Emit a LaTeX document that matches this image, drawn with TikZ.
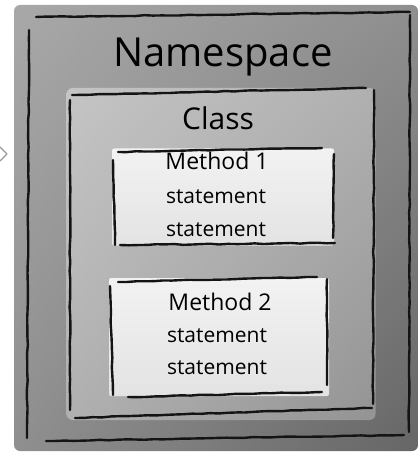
\documentclass[tikz,border=0pt]{standalone}
\usepackage{fontspec}
\setmainfont{Open Sans}
\usetikzlibrary{decorations.pathmorphing,shadings}

\definecolor{nsLight}{gray}{0.66}
\definecolor{nsMid}{gray}{0.56}
\definecolor{nsDark}{gray}{0.40}
\definecolor{clLight}{gray}{0.77}
\definecolor{clMid}{gray}{0.69}
\definecolor{clDark}{gray}{0.58}
\definecolor{mtLight}{gray}{0.95}
\definecolor{mtDark}{gray}{0.89}

\tikzset{
  pen/.style={line width=2.4pt, line cap=round, black!92,
    decorate, decoration={random steps, segment length=9pt, amplitude=0.45pt}},
  panel/.style={inner sep=0pt, rounded corners=6pt},
  title/.style={anchor=base, inner sep=0pt},
}

\begin{document}
\begin{tikzpicture}[x=1pt,y=-1pt]
  \useasboundingbox (0,0) rectangle (419,454);

  % filled panels
  \node (ns) [panel, minimum width=404pt, minimum height=446pt,
    upper left=nsLight, upper right=nsMid, lower left=nsMid, lower right=nsDark]
    at (216,228) {};
  \node (cl) [panel, minimum width=309pt, minimum height=332pt,
    upper left=clLight, upper right=clMid, lower left=clMid, lower right=clDark]
    at (221,254) {};
  \node (mone) [panel, rounded corners=2pt, minimum width=222pt, minimum height=97pt,
    upper left=mtLight, upper right=mtLight, lower left=mtDark, lower right=mtDark]
    at (223,197) {};
  \node (mtwo) [panel, rounded corners=2pt, minimum width=220pt, minimum height=118pt,
    upper left=mtLight, upper right=mtLight, lower left=mtDark, lower right=mtDark]
    at (219,337) {};

  % hand drawn edges
  \draw[pen] (36,17) -- (410,12);
  \draw[pen] (29,30) -- (27,438);
  \draw[pen] (410,15) -- (409,432);
  \draw[pen] (46,441) -- (404,435);

  \draw[pen] (72,95) -- (366,88);
  \draw[pen] (70,100) -- (70,410);
  \draw[pen] (374,90) -- (373,404);
  \draw[pen] (75,418) -- (372,408);

  \draw[pen] (118,152) -- (322,148);
  \draw[pen] (113,160) -- (115,245);
  \draw[pen] (334,154) -- (333,238);
  \draw[pen] (120,245) -- (335,243);

  \draw[pen] (118,282) -- (317,277);
  \draw[pen] (110,286) -- (113,395);
  \draw[pen] (327,279) -- (327,385);
  \draw[pen] (128,397) -- (322,392);

  % labels
  \node (nslabel) [title, font=\fontsize{40}{44}\selectfont] at (223,67) {Namespace};
  \node (cllabel) [title, font=\fontsize{30}{34}\selectfont] at (218,130) {Class};
  \node (monelabel) [title, font=\fontsize{23}{26}\selectfont] at (217,170) {Method 1};
  \node (monea) [title, font=\fontsize{21}{24}\selectfont] at (216,203) {statement};
  \node (moneb) [title, font=\fontsize{21}{24}\selectfont] at (216,236) {statement};
  \node (mtwolabel) [title, font=\fontsize{23}{26}\selectfont] at (220,310) {Method 2};
  \node (mtwoa) [title, font=\fontsize{21}{24}\selectfont] at (217,342) {statement};
  \node (mtwob) [title, font=\fontsize{21}{24}\selectfont] at (217,374) {statement};

  % arrow tip entering from the left
  \draw[gray!80, line width=1.2pt, line join=round] (0,147) -- (7,154) -- (0,161);
\end{tikzpicture}
\end{document}
